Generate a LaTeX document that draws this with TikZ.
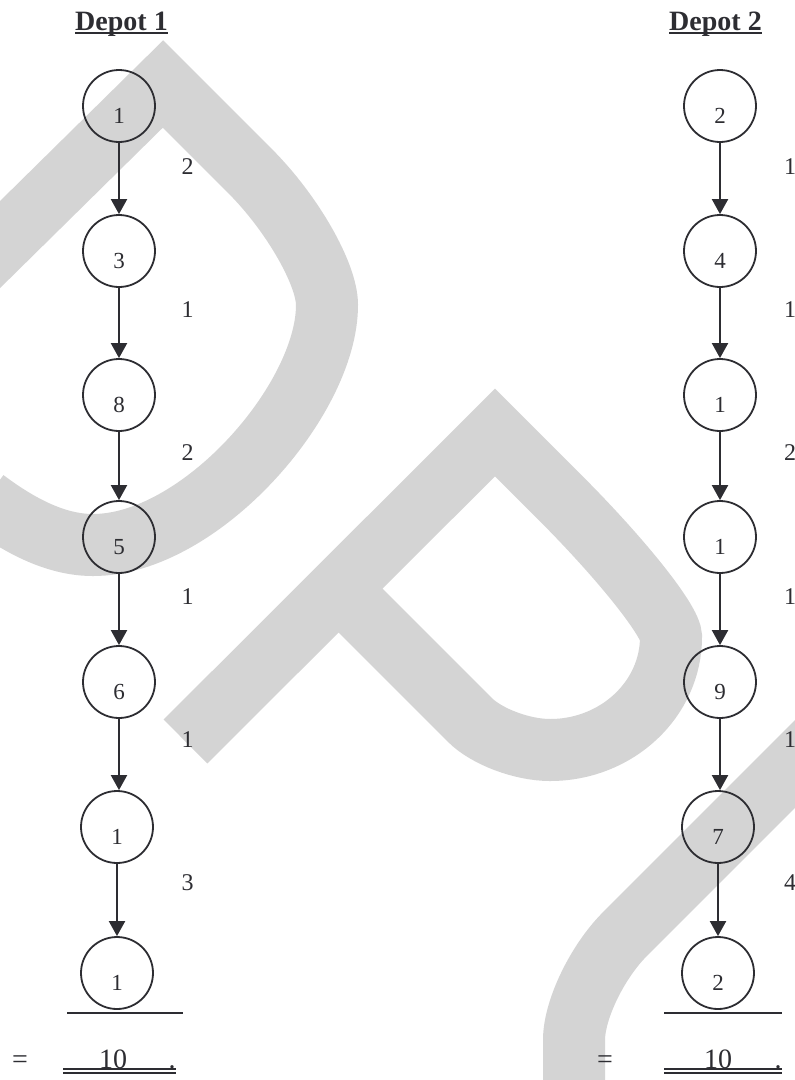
\documentclass[tikz,border=0pt]{standalone}
\usepackage{fontspec}
\setmainfont{Liberation Serif}
\usetikzlibrary{arrows.meta}
\definecolor{ink}{RGB}{45,45,50}
\definecolor{wm}{RGB}{212,212,212}
\begin{document}
\begin{tikzpicture}[x=1pt,y=-1pt,
  vtx/.style={circle, draw=ink, line width=1.8pt, minimum size=72pt, inner sep=0pt,
    font=\fontsize{23}{23}\selectfont, text=ink, text height=34pt, text depth=0pt},
  edgelbl/.style={font=\fontsize{24}{24}\selectfont, text=ink, inner sep=0pt},
  ttl/.style={font=\fontsize{28}{28}\selectfont\bfseries, text=ink, inner sep=0pt, anchor=base},
  tot/.style={font=\fontsize{28}{28}\selectfont, text=ink, inner sep=0pt, anchor=base},
  arr/.style={draw=ink, line width=2pt, -{Triangle[width=16pt,length=15pt]}},
  rule/.style={draw=ink, line width=2pt},
  dbl/.style={draw=ink, line width=1.3pt},
  wmark/.style={draw=wm, line width=62pt, line join=miter, line cap=butt}]
\clip (0,0) rectangle (795,1080);
\fill[white] (0,0) rectangle (795,1080);
% watermark
\draw[wmark] (-40,284) -- (163,84) -- (250,171) .. controls (292,213) and (327,274) .. (327,305)
  .. controls (327,400) and (200,545) .. (93,545) .. controls (60,545) and (25,530) .. (-15,500);
\draw[wmark] (185.5,741.5) -- (495,432.5) -- (560,497.5) .. controls (621,558.5) and (671,621) .. (671,637)
  .. controls (671,699) and (617,750) .. (550,750) .. controls (522,750) and (486.5,736.5) .. (470,720)
  -- (338.75,588.75);
\draw[wmark] (840,719) -- (625,934) .. controls (597,962) and (574,1010) .. (574,1040) -- (574,1100);
% titles
\node[ttl] (t1) at (121.5,30) {Depot 1};
\node[ttl] (t2) at (715.5,30) {Depot 2};
\draw[ink, line width=1.6pt] ([yshift=-3pt]t1.base west) -- ([yshift=-3pt]t1.base east);
\draw[ink, line width=1.6pt] ([yshift=-3pt]t2.base west) -- ([yshift=-3pt]t2.base east);
% depot 1
\node[vtx] (a1) at (119,106) {1};
\node[vtx] (a2) at (119,251) {3};
\node[vtx] (a3) at (119,395) {8};
\node[vtx] (a4) at (119,537) {5};
\node[vtx] (a5) at (119,682) {6};
\node[vtx] (a6) at (117,827) {1};
\node[vtx] (a7) at (117,973) {1};
\foreach \i/\j in {1/2,2/3,3/4,4/5,5/6,6/7}
  \draw[arr] (a\i.south) -- (a\i.south |- a\j.north);
\node[edgelbl] (la1) at (187.5,167) {2};
\node[edgelbl] (la2) at (187.5,310) {1};
\node[edgelbl] (la3) at (187.5,453) {2};
\node[edgelbl] (la4) at (187.5,597) {1};
\node[edgelbl] (la5) at (187.5,740) {1};
\node[edgelbl] (la6) at (187.5,883) {3};
% depot 2
\node[vtx] (b1) at (720,106) {2};
\node[vtx] (b2) at (720,251) {4};
\node[vtx] (b3) at (720,395) {1};
\node[vtx] (b4) at (720,537) {1};
\node[vtx] (b5) at (720,682) {9};
\node[vtx] (b6) at (718,827) {7};
\node[vtx] (b7) at (718,973) {2};
\foreach \i/\j in {1/2,2/3,3/4,4/5,5/6,6/7}
  \draw[arr] (b\i.south) -- (b\i.south |- b\j.north);
\node[edgelbl] (lb1) at (790,167) {1};
\node[edgelbl] (lb2) at (790,310) {1};
\node[edgelbl] (lb3) at (790,453) {2};
\node[edgelbl] (lb4) at (790,597) {1};
\node[edgelbl] (lb5) at (790,740) {1};
\node[edgelbl] (lb6) at (790,883) {4};
% totals depot 1
\coordinate (r1a) at (67,1013);
\coordinate (r1b) at (183,1013);
\draw[rule] (r1a) -- (r1b);
\node[tot] (e1) at (20,1068) {=};
\node[tot] (s1) at (113,1068) {10};
\node[tot] (p1) at (172,1068) {.};
\coordinate (d1a) at (63,1069);
\coordinate (d1b) at (176,1069);
\draw[dbl] (d1a) -- (d1b);
\draw[dbl] ([yshift=-4pt]d1a) -- ([yshift=-4pt]d1b);
% totals depot 2
\coordinate (r2a) at (664,1013);
\coordinate (r2b) at (782,1013);
\draw[rule] (r2a) -- (r2b);
\node[tot] (e2) at (605,1068) {=};
\node[tot] (s2) at (718,1068) {10};
\node[tot] (p2) at (778,1068) {.};
\coordinate (d2a) at (664,1069);
\coordinate (d2b) at (782,1069);
\draw[dbl] (d2a) -- (d2b);
\draw[dbl] ([yshift=-4pt]d2a) -- ([yshift=-4pt]d2b);
\end{tikzpicture}
\end{document}
